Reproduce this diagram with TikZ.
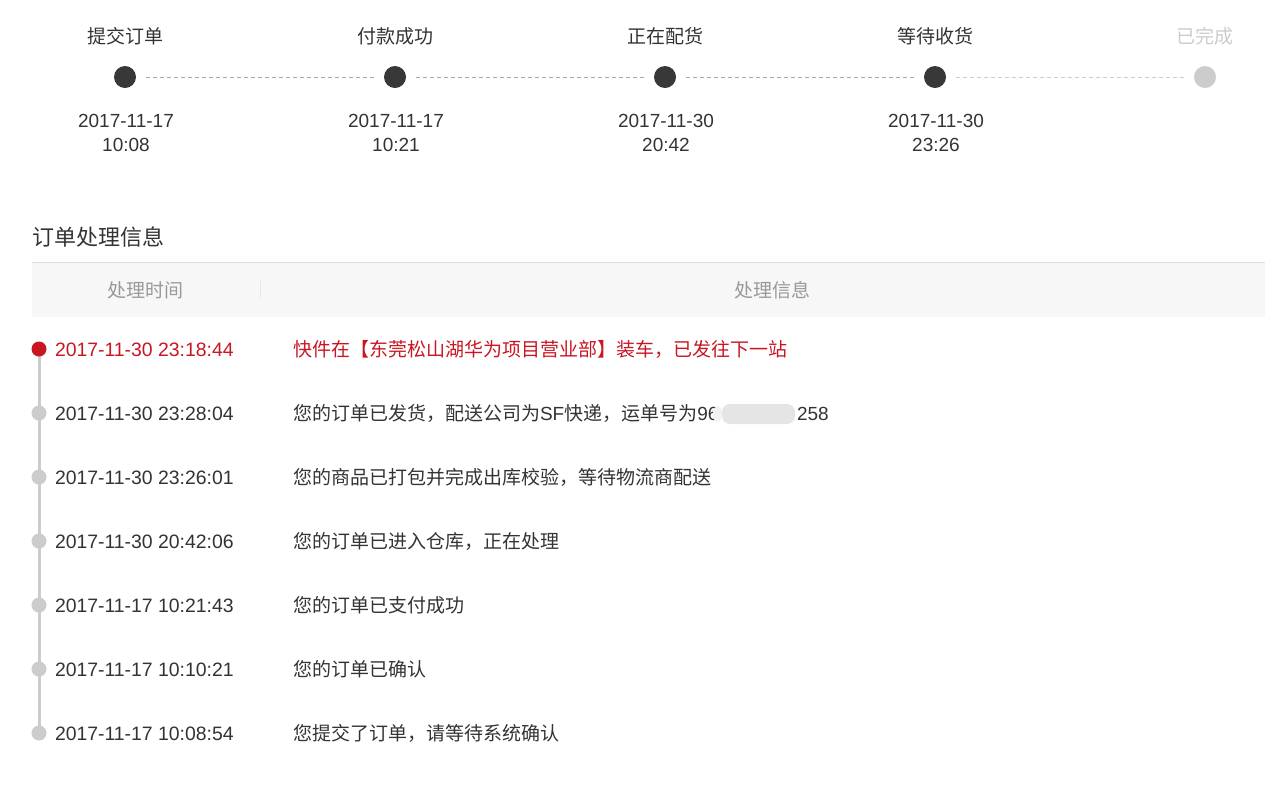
\documentclass[tikz,border=0pt]{standalone}
\usepackage{fontspec}
\setmainfont{Liberation Sans}
\newfontfamily\cjk{Noto Sans CJK SC}
\usetikzlibrary{backgrounds}
\definecolor{txt}{HTML}{333333}
\definecolor{jdred}{HTML}{C81623}
\definecolor{lightg}{HTML}{CCCCCC}
\definecolor{hdrbg}{HTML}{F7F7F7}
\definecolor{hdrtx}{HTML}{999999}
\definecolor{dashg}{HTML}{A8A8A8}
\definecolor{dotd}{HTML}{383838}
\definecolor{rule}{HTML}{DDDDDD}
\newcommand{\zh}[1]{{\cjk #1}}
\tikzset{
  every node/.style={inner sep=0pt,outer sep=0pt,font=\fontsize{19}{23}\selectfont},
  bigdot/.style={circle,fill=dotd,minimum size=22pt},
  bigdotoff/.style={circle,fill=lightg,minimum size=22pt},
  stepline/.style={dashg,line width=0.9pt,dash pattern=on 4pt off 3pt,shorten <=10pt,shorten >=10pt},
  steplineoff/.style={stepline,draw=lightg},
  smalldot/.style={circle,fill=lightg,minimum size=15pt},
  reddot/.style={circle,fill=jdred,minimum size=15pt},
  toplabel/.style={anchor=base,text=txt},
  celltext/.style={anchor=base west,text=txt},
  datetext/.style={celltext,font=\fontsize{19.4}{23}\selectfont},
  redtext/.style={anchor=base west,text=jdred},
  reddate/.style={redtext,font=\fontsize{19.4}{23}\selectfont},
}
\begin{document}
\begin{tikzpicture}[x=1pt,y=-1pt]
\useasboundingbox (0,0) rectangle (1265,807);
% ---- top progress ----
\node[bigdot] (s1) at (125,77) {};
\node[bigdot] (s2) at (395,77) {};
\node[bigdot] (s3) at (665,77) {};
\node[bigdot] (s4) at (935,77) {};
\node[bigdotoff] (s5) at (1205,77) {};
\draw[stepline] (s1) -- (s2);
\draw[stepline] (s2) -- (s3);
\draw[stepline] (s3) -- (s4);
\draw[steplineoff] (s4) -- (s5);
\node[toplabel] (l1) at (125,43) {\zh{提交订单}};
\node[toplabel] (l2) at (395,43) {\zh{付款成功}};
\node[toplabel] (l3) at (665,43) {\zh{正在配货}};
\node[toplabel] (l4) at (935,43) {\zh{等待收货}};
\node[toplabel,text=lightg] (l5) at (1205,43) {\zh{已完成}};
\node[toplabel] (d1) at (126,127) {2017-11-17};
\node[toplabel] (t1) at (126,151) {10:08};
\node[toplabel] (d2) at (396,127) {2017-11-17};
\node[toplabel] (t2) at (396,151) {10:21};
\node[toplabel] (d3) at (666,127) {2017-11-30};
\node[toplabel] (t3) at (666,151) {20:42};
\node[toplabel] (d4) at (936,127) {2017-11-30};
\node[toplabel] (t4) at (936,151) {23:26};
% ---- title & header ----
\node[anchor=base west,text=txt,font=\fontsize{22}{26}\selectfont] (title) at (32,245) {\zh{订单处理信息}};
\fill[hdrbg] (32,263) rectangle (1265,317);
\draw[rule,line width=1pt] (32,262.5) -- (1265,262.5);
\draw[rule!70,line width=1pt] (260,281) -- (260,299);
\node[anchor=base,text=hdrtx] (h1) at (145,297) {\zh{处理时间}};
\node[anchor=base,text=hdrtx] (h2) at (772,297) {\zh{处理信息}};
% ---- rows ----
\node[reddot] (r1) at (39,349) {};
\node[smalldot] (r2) at (39,413) {};
\node[smalldot] (r3) at (39,477) {};
\node[smalldot] (r4) at (39,541) {};
\node[smalldot] (r5) at (39,605) {};
\node[smalldot] (r6) at (39,669) {};
\node[smalldot] (r7) at (39,733) {};
\begin{pgfonlayer}{background}
\draw[lightg,line width=3pt] (r1.center) -- (r7.center);
\end{pgfonlayer}
\node[reddate] (a1) at (55,356) {2017-11-30 23:18:44};
\node[redtext] (b1) at (293,356) {\zh{快件在【东莞松山湖华为项目营业部】装车，已发往下一站}};
\node[datetext] (a2) at (55,420) {2017-11-30 23:28:04};
\node[celltext] (b2) at (293,420) {\zh{您的订单已发货，配送公司为}SF\zh{快递，运单号为}96};
\fill[black!10,rounded corners=8pt] (722,404) rectangle (795,424);
\fill[black!5,rounded corners=6pt] (713,406) rectangle (722,422);
\node[celltext] (c2) at (797,420) {258};
\node[datetext] (a3) at (55,484) {2017-11-30 23:26:01};
\node[celltext] (b3) at (293,484) {\zh{您的商品已打包并完成出库校验，等待物流商配送}};
\node[datetext] (a4) at (55,548) {2017-11-30 20:42:06};
\node[celltext] (b4) at (293,548) {\zh{您的订单已进入仓库，正在处理}};
\node[datetext] (a5) at (55,612) {2017-11-17 10:21:43};
\node[celltext] (b5) at (293,612) {\zh{您的订单已支付成功}};
\node[datetext] (a6) at (55,676) {2017-11-17 10:10:21};
\node[celltext] (b6) at (293,676) {\zh{您的订单已确认}};
\node[datetext] (a7) at (55,740) {2017-11-17 10:08:54};
\node[celltext] (b7) at (293,740) {\zh{您提交了订单，请等待系统确认}};
\end{tikzpicture}
\end{document}
